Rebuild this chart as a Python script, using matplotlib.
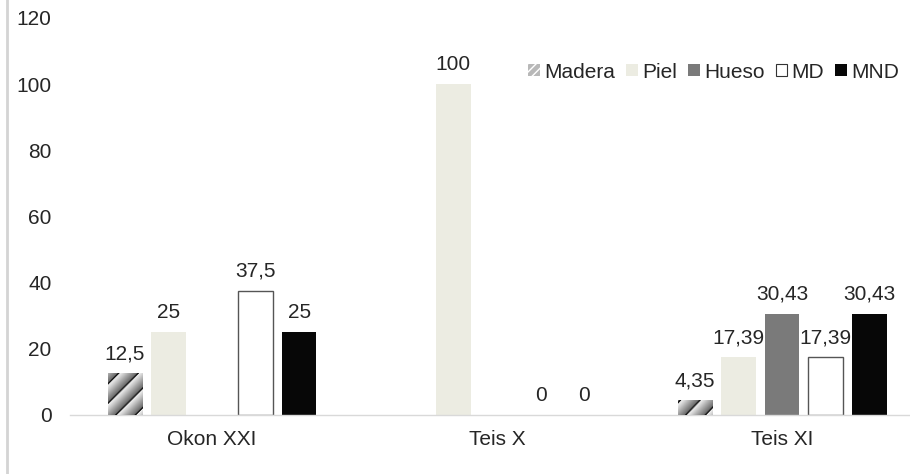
import numpy as np
import matplotlib.pyplot as plt
from matplotlib.patches import Patch
from matplotlib.lines import Line2D

plt.rcParams['font.family'] = ['Liberation Sans', 'DejaVu Sans']
plt.rcParams['font.size'] = 15

sites = ['Okon XXI', 'Teis X', 'Teis XI']
series = ['Madera', 'Piel', 'Hueso', 'MD', 'MND']
madera = [12.5, np.nan, 4.35]
piel = [25, 100, 17.39]
hueso = [np.nan, np.nan, 30.43]
md = [37.5, 0, 17.39]
mnd = [25, 0, 30.43]
values = [madera, piel, hueso, md, mnd]

colors = ['#c8c8c8', '#ececE2', '#7a7a7a', '#ffffff', '#070707']
edges = ['none', 'none', 'none', '#555555', 'none']
txt = '#262626'


def fmt(v):
    s = ('%.2f' % v).rstrip('0').rstrip('.')
    return s.replace('.', ',')


def stripes(ax, bar, period=19.0):
    # gradient diagonal stripe fill, clipped to the bar
    x0, y0 = bar.get_x(), bar.get_y()
    x1, y1 = x0 + bar.get_width(), y0 + bar.get_height()
    p0 = ax.transData.transform((x0, y0))
    p1 = ax.transData.transform((x1, y1))
    w = max(int(round(p1[0] - p0[0])), 1)
    h = max(int(round(p1[1] - p0[1])), 1)
    xx, yy = np.meshgrid(np.arange(w) + p0[0], np.arange(h) + p0[1])
    frac = ((xx - yy) / period) % 1.0
    g = 0.95 - 0.6 * frac
    g[frac > 0.9] = 0.1
    ax.imshow(g, cmap='gray', vmin=0, vmax=1, origin='lower',
              extent=(x0, x1, y0, y1), aspect='auto', clip_path=bar,
              interpolation='bilinear', zorder=3)


fig = plt.figure(figsize=(9.1, 4.74), dpi=100)
ax = fig.add_axes([0.0764, 0.1245, 0.9396, 0.8376])

x = np.arange(len(sites))
step = 0.153
width = 0.121

for i, (name, vals) in enumerate(zip(series, values)):
    pos = x + (i - 2) * step
    lw = [1.0 if edges[i] != 'none' and v > 0 else 0 for v in vals]
    bars = ax.bar(pos, vals, width, color=colors[i], edgecolor=edges[i],
                  linewidth=lw, zorder=2)
    for b, v in zip(bars, vals):
        if np.isnan(v):
            continue
        ax.annotate(fmt(v), (b.get_x() + b.get_width() / 2, v),
                    xytext=(0, 7.5), textcoords='offset points',
                    ha='center', va='bottom', color=txt, fontsize=15)

ax.set_xlim(-0.5, 2.5)
ax.set_ylim(0, 120)
ax.set_yticks(range(0, 121, 20))
ax.set_xticks(x)
ax.set_xticklabels(sites)
ax.tick_params(axis='both', length=0, colors=txt, labelsize=15)
ax.tick_params(axis='y', pad=13)
ax.tick_params(axis='x', pad=11)
for s in ['top', 'right', 'left']:
    ax.spines[s].set_visible(False)
ax.spines['bottom'].set_color('#d9d9d9')
ax.spines['bottom'].set_linewidth(1.0)

fig.canvas.draw()
for b, v in zip(ax.containers[0], madera):
    if not np.isnan(v):
        stripes(ax, b)

handles = [Patch(facecolor='#b8b8b8', edgecolor='white', hatch='////', linewidth=0),
           Patch(facecolor=colors[1]),
           Patch(facecolor=colors[2]),
           Patch(facecolor='white', edgecolor='#333333', linewidth=0.8),
           Patch(facecolor=colors[4])]
fig.legend(handles, series, loc='center right', bbox_to_anchor=(0.997, 0.848),
           ncol=5, frameon=False, handlelength=0.55, handleheight=0.55,
           handletextpad=0.2, columnspacing=0.55, fontsize=15,
           labelcolor=txt, borderaxespad=0)

fig.add_artist(Line2D([0.008, 0.008], [0, 1], transform=fig.transFigure,
                      color='#d4d4d4', linewidth=2))

fig.savefig('out.png', dpi=100)
